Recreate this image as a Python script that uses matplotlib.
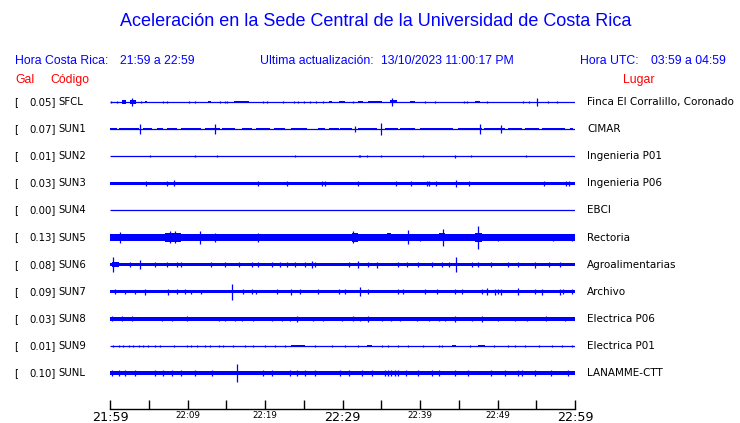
import matplotlib
matplotlib.use("Agg")
import matplotlib.pyplot as plt

W, H = 740, 423
BLUE = "#0000ff"
RED = "#ff0000"

title = "Aceleración en la Sede Central de la Universidad de Costa Rica"
hora_cr = "21:59 a 22:59"
actualizacion = "13/10/2023 11:00:17 PM"
hora_utc = "03:59 a 04:59"

codes = ["SFCL", "SUN1", "SUN2", "SUN3", "SUN4", "SUN5", "SUN6", "SUN7", "SUN8", "SUN9", "SUNL"]
peaks = [0.05, 0.07, 0.01, 0.03, 0.00, 0.13, 0.08, 0.09, 0.03, 0.01, 0.10]
places = ["Finca El Corralillo, Coronado", "CIMAR", "Ingenieria P01", "Ingenieria P06", "EBCI",
          "Rectoria", "Agroalimentarias", "Archivo", "Electrica P06", "Electrica P01", "LANAMME-CTT"]

# background half-amplitude of each trace (relative units, ~pixels)
base_amp = [0.5, 0.5, 0.5, 1.7, 0.5, 3.1, 1.7, 1.5, 1.9, 0.5, 2.0]

# bursts: (start minute, end minute, half amplitude)
bursts = {
    "SFCL": [(1.5, 2.0, 1.7), (2.6, 3.3, 1.7), (4.5, 4.8, 1.3), (12.7, 13.0, 1.3), (16.0, 17.9, 1.3),
             (28.3, 28.6, 1.3), (29.6, 30.3, 1.2), (32.0, 32.7, 1.2), (33.3, 35.1, 1.4),
             (36.1, 37.0, 1.5), (38.7, 39.3, 1.2), (47.1, 47.7, 1.3)],
    "SUN1": [(0.0, 0.9, 1.2), (1.2, 3.7, 1.2), (4.3, 5.4, 1.2), (6.0, 6.9, 1.2), (7.3, 8.6, 1.2),
             (9.2, 11.8, 1.2), (12.3, 14.2, 1.2), (14.4, 16.1, 1.2), (17.0, 18.3, 1.2),
             (18.9, 20.6, 1.2), (21.1, 22.6, 1.2), (23.4, 25.4, 1.2), (26.9, 27.7, 1.2),
             (28.2, 29.5, 1.2), (29.7, 31.2, 1.2), (32.0, 34.4, 1.2), (35.5, 37.2, 1.2),
             (37.4, 39.4, 1.2), (40.0, 44.3, 1.2), (44.9, 48.0, 1.2), (48.2, 51.0, 1.2),
             (51.4, 53.1, 1.2), (53.5, 55.3, 1.2), (55.7, 58.7, 1.2), (59.4, 59.8, 1.2)],
    "SUN2": [],
    "SUN3": [],
    "SUN4": [],
    "SUN5": [(0.0, 1.9, 3.7), (3.7, 4.3, 3.5), (7.1, 9.2, 4.6), (11.0, 11.8, 3.8), (14.4, 15.3, 3.9),
             (16.6, 17.0, 3.7), (22.6, 23.4, 3.6), (26.0, 26.9, 3.6), (29.0, 29.9, 3.9),
             (31.2, 32.0, 4.6), (33.3, 33.8, 3.7), (35.7, 36.3, 4.0), (42.4, 43.2, 4.0),
             (46.2, 46.7, 3.7), (47.1, 48.0, 4.3), (53.5, 54.0, 3.7)],
    "SUN6": [(0.2, 1.2, 2.8)],
    "SUN7": [],
    "SUN8": [(3.7, 5.8, 2.2), (11.0, 13.1, 2.2)],
    "SUN9": [(23.4, 25.2, 1.0), (33.1, 33.8, 1.0), (44.1, 44.7, 1.0), (47.5, 48.4, 1.0)],
    "SUNL": [],
}

# spikes: (minute, half amplitude)
spikes = {
    "SFCL": [(0.13, 1), (0.86, 1), (2.8, 4), (3.96, 1), (6.9, 1), (7.4, 1), (10.2, 1), (11.0, 1.3),
             (14.2, 1), (14.8, 1), (15.1, 1), (19.7, 1.3), (20.3, 1.3), (22.3, 1), (23.8, 1.2),
             (24.2, 1.2), (25.0, 1.2), (25.8, 1), (26.6, 1), (27.5, 1), (31.3, 1), (36.4, 4),
             (40.6, 1), (41.9, 1), (45.7, 1), (46.0, 1.2), (48.6, 1), (53.3, 1), (54.0, 1.2),
             (55.1, 3.7), (56.5, 1), (57.7, 1)],
    "SUN1": [(3.9, 5), (13.6, 5.3), (31.6, 2.7), (35.0, 6.3), (47.7, 4.7), (50.5, 4)],
    "SUN2": [(5.1, 1.2), (11.0, 1.2), (13.8, 1.2), (23.9, 1.2), (32.1, 1), (32.3, 1), (33.2, 1.2),
             (35.0, 1.2), (40.4, 1.3), (44.5, 1.5), (46.6, 1.2), (53.7, 1.2)],
    "SUN3": [(4.6, 2.3), (7.4, 2.3), (8.2, 3), (19.1, 2.3), (22.9, 2.3), (27.4, 2.3), (27.7, 2.3),
             (32.0, 2.7), (36.9, 2.3), (38.8, 2.3), (40.9, 2.3), (41.2, 2.7), (42.0, 2.3),
             (44.6, 3.3), (46.3, 2.7), (56.0, 2.3), (58.9, 2.3), (59.2, 2.3)],
    "SUN4": [],
    "SUN5": [(1.3, 5.3), (7.7, 6), (8.4, 6), (11.6, 6.7), (13.5, 4.2), (19.1, 4.2), (31.4, 6),
             (38.5, 7), (40.0, 3.8), (43.0, 8.7), (47.5, 11.7), (50.1, 3.8), (57.2, 3.8), (59.6, 3.6)],
    "SUN6": [(0.4, 7.7), (2.6, 2.7), (3.9, 4.7), (5.8, 2.5), (7.3, 2.5), (8.6, 2.5), (9.2, 2.5),
             (13.0, 2.5), (14.8, 2.5), (16.6, 2.3), (18.3, 2.5), (19.1, 2.3), (20.9, 2.5),
             (21.9, 2.5), (22.9, 2.5), (23.9, 2.7), (25.2, 2.5), (26.1, 3.7), (26.5, 2.5),
             (30.8, 2.5), (32.0, 3.3), (33.3, 2.5), (34.5, 3), (37.2, 2.5), (38.3, 2.5),
             (39.8, 2.5), (41.5, 2.5), (42.8, 2.5), (43.7, 2.5), (44.7, 7.3), (46.7, 2.5),
             (47.5, 2.5), (49.2, 2.5), (51.4, 2.5), (52.7, 2.5), (54.8, 3), (56.6, 2.5), (58.1, 2.5)],
    "SUN7": [(0.6, 2.3), (1.9, 2), (3.2, 2), (4.5, 3), (7.5, 3), (8.6, 2.3), (9.7, 2.7), (10.5, 2),
             (11.8, 2), (15.8, 8), (17.2, 2.3), (18.3, 2.3), (18.9, 2), (21.6, 2.3), (23.4, 3),
             (24.5, 2.3), (26.9, 2.3), (29.5, 2.3), (30.3, 2.3), (32.3, 4.3), (33.3, 2.3),
             (37.2, 2.3), (37.8, 2.3), (40.6, 2.7), (42.2, 2.3), (44.5, 2.3), (45.4, 2.3),
             (48.0, 2.3), (48.6, 3.7), (49.7, 3), (50.1, 2.5), (50.5, 3), (52.7, 3.7), (54.8, 2.3),
             (55.7, 3), (58.1, 3), (58.4, 2.5), (59.6, 2.7)],
    "SUN8": [(0.2, 2.5), (1.5, 2.5), (2.8, 2.5), (6.7, 2.3), (8.0, 2.3), (9.9, 2.5), (14.0, 2.3),
             (14.8, 2.3), (16.1, 2.3), (17.0, 2.3), (18.5, 2.3), (20.9, 2.3), (22.2, 2.3),
             (23.2, 2.3), (24.1, 2.7), (26.2, 2.3), (27.5, 2.3), (29.9, 2.3), (31.4, 2.5),
             (32.3, 2.3), (33.3, 2.7), (35.1, 2.3), (36.3, 2.3), (37.4, 2.3), (39.6, 2.3),
             (41.1, 2.3), (42.4, 2.3), (43.2, 2.3), (44.5, 3), (46.7, 2.3), (48.0, 3.3),
             (50.1, 2.3), (52.3, 2.3), (53.8, 2.3), (56.3, 2.5), (58.7, 2.3)],
    "SUN9": [(0.4, 1.3), (1.1, 1.3), (1.7, 1.3), (2.4, 1.3), (3.0, 1.3), (3.7, 1.3), (4.3, 1.3),
             (4.9, 1.3), (5.8, 1.3), (6.5, 1.3), (8.2, 1.3), (9.9, 1.3), (10.5, 1.3), (11.2, 1.3),
             (12.3, 1.3), (12.9, 1.3), (14.0, 1.3), (14.6, 1.3), (15.9, 1.3), (17.4, 1.3),
             (18.5, 1.3), (20.0, 1.3), (21.3, 1.3), (22.6, 1.3), (26.5, 1.3), (28.6, 1.3),
             (30.3, 1.3), (32.0, 1.3), (35.1, 1.3), (35.9, 1.3), (37.2, 1.3), (38.5, 1.3),
             (40.4, 1.3), (42.4, 1.3), (42.8, 1.3), (46.5, 1.3), (49.5, 1.3), (51.4, 1.3),
             (52.3, 1.3), (53.5, 1.3), (55.3, 1.3), (57.0, 1.3), (58.3, 1.3), (59.6, 1.3)],
    "SUNL": [(0.2, 3), (1.1, 3), (1.9, 3), (3.2, 3), (5.8, 3), (6.9, 3), (8.0, 3), (9.2, 3),
             (11.0, 3), (13.1, 3), (16.4, 8.7), (19.8, 3), (20.9, 3), (23.2, 3), (24.1, 3),
             (25.2, 3), (26.5, 3), (29.7, 3), (30.8, 3), (32.5, 3), (33.8, 3), (35.5, 3),
             (35.9, 3), (36.3, 3), (36.8, 3), (37.2, 3), (38.2, 3.3),
             (39.8, 3), (41.5, 3), (42.4, 3), (44.5, 3), (46.2, 3), (49.2, 3), (51.0, 3),
             (52.7, 3), (53.1, 3), (54.8, 3), (56.9, 3.3), (59.1, 3)],
}

tick_minutes = list(range(0, 61, 5))
label_minutes = [0, 10, 20, 30, 40, 50, 60]
label_texts = ["21:59", "22:09", "22:19", "22:29", "22:39", "22:49", "22:59"]
big_labels = ["21:59", "22:29", "22:59"]

# ---------------------------------------------------------------- layout
fig = plt.figure(figsize=(W / 100, H / 100), dpi=100)
fig.patch.set_facecolor("white")

def fx(px):
    return px / W

def fy(py):
    return 1 - py / H

ROW_TOP_PX = 102.0
ROW_STEP_PX = 27.1
AX_L, AX_R, AX_T, AX_B = 110, 575, 90, 409
ax = fig.add_axes([fx(AX_L), fy(AX_B), (AX_R - AX_L) / W, (AX_B - AX_T) / H])
ax.set_xlim(0, 60)
ax.set_ylim((AX_B - ROW_TOP_PX) / ROW_STEP_PX, (AX_T - ROW_TOP_PX) / ROW_STEP_PX)
S = 1.0 / ROW_STEP_PX  # amplitude units -> row units

for i, code in enumerate(codes):
    b = base_amp[i]
    if b <= 0.6:
        ax.hlines(i, 0, 60, color=BLUE, lw=0.9)
    else:
        ax.broken_barh([(0, 60)], (i - b * S, 2 * b * S), facecolor=BLUE, edgecolor="none")
    for (s, e, a) in bursts[code]:
        ax.broken_barh([(s, e - s)], (i - a * S, 2 * a * S), facecolor=BLUE, edgecolor="none")
    for (t, a) in spikes[code]:
        ax.vlines(t, i - a * S, i + a * S, color=BLUE, lw=0.9)

for side in ["top", "left", "right"]:
    ax.spines[side].set_visible(False)
ax.spines["bottom"].set_linewidth(1.0)
ax.set_yticks([])
ax.set_xticks(tick_minutes)
lbl = []
for m in tick_minutes:
    lbl.append(label_texts[label_minutes.index(m)] if m in label_minutes else "")
ax.set_xticklabels(lbl)
ax.tick_params(axis="x", direction="in", length=6.8, width=1.0, pad=1.5, colors="black")
for t in ax.get_xticklabels():
    t.set_family("DejaVu Sans")
    t.set_fontsize(9.2 if t.get_text() in big_labels else 6.3)

# station texts
for i, code in enumerate(codes):
    ypx = ROW_TOP_PX + i * ROW_STEP_PX
    fig.text(fx(14), fy(ypx), "[", fontsize=7.3, family="DejaVu Sans", va="center", ha="left")
    fig.text(fx(55.5), fy(ypx), f"{peaks[i]:.2f}]", fontsize=7.3, family="DejaVu Sans", va="center", ha="right")
    fig.text(fx(58), fy(ypx), code, fontsize=7.3, family="DejaVu Sans", va="center", ha="left")
    fig.text(fx(587), fy(ypx), places[i], fontsize=7.5, family="DejaVu Sans", va="center", ha="left")

# header texts
HF = "Liberation Sans"
HS = 8.8
fig.text(fx(376), fy(22), title, fontsize=13, family=HF, color=BLUE, ha="center", va="center")
fig.text(fx(15), fy(61), "Hora Costa Rica:", fontsize=HS, family=HF, color=BLUE, va="center")
fig.text(fx(120), fy(61), hora_cr, fontsize=HS, family=HF, color=BLUE, va="center")
fig.text(fx(260), fy(61), "Ultima actualización:", fontsize=HS, family=HF, color=BLUE, va="center")
fig.text(fx(381), fy(61), actualizacion, fontsize=HS, family=HF, color=BLUE, va="center")
fig.text(fx(580), fy(61), "Hora UTC:", fontsize=HS, family=HF, color=BLUE, va="center")
fig.text(fx(651), fy(61), hora_utc, fontsize=HS, family=HF, color=BLUE, va="center")
fig.text(fx(15), fy(80), "Gal", fontsize=HS, family=HF, color=RED, va="center")
fig.text(fx(50), fy(80), "Código", fontsize=HS, family=HF, color=RED, va="center")
fig.text(fx(623), fy(80), "Lugar", fontsize=HS, family=HF, color=RED, va="center")

fig.savefig("out.png", dpi=100, facecolor="white")
